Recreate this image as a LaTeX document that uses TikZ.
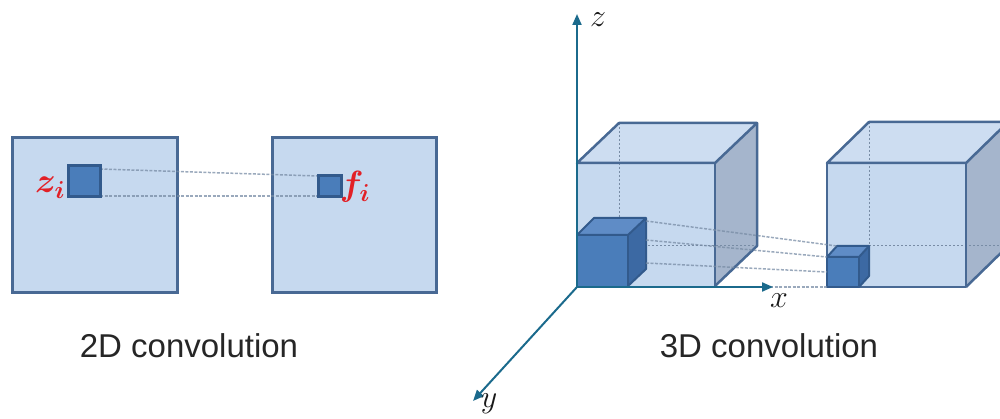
\RequirePackage{fix-cm}
\documentclass[tikz,border=0pt]{standalone}
\usepackage{fontspec}
\setsansfont{Liberation Sans}
\usetikzlibrary{arrows.meta}
\definecolor{faceblue}{RGB}{198,217,239}
\definecolor{topblue}{RGB}{205,221,241}
\definecolor{sideblue}{RGB}{165,181,204}
\definecolor{edgeblue}{RGB}{72,105,148}
\definecolor{smallfront}{RGB}{74,125,186}
\definecolor{smalltop}{RGB}{95,140,198}
\definecolor{smallside}{RGB}{60,105,163}
\definecolor{smalledge}{RGB}{50,90,140}
\definecolor{axisteal}{RGB}{27,106,140}
\definecolor{labelred}{RGB}{226,32,38}
\definecolor{linkgray}{RGB}{120,140,165}
\tikzset{
  bigsq/.style={fill=faceblue, draw=edgeblue, line width=3pt},
  smallsq/.style={fill=smallfront, draw=smalledge, line width=3pt},
  cubeedge/.style={draw=edgeblue, line width=2.5pt, line join=round},
  smalledgest/.style={draw=smalledge, line width=2pt, line join=round},
  hidden/.style={draw=linkgray, line width=1pt, dash pattern=on 2pt off 2pt},
  link/.style={draw=linkgray, line width=1.5pt, dash pattern=on 3pt off 1.5pt, opacity=0.75},
  axis/.style={draw=axisteal, line width=2pt, -{Triangle[length=11pt,width=9pt]}},
  caption/.style={font=\sffamily\fontsize{33}{40}\selectfont, text=black!85, inner sep=0pt, anchor=base},
  mlabel/.style={font=\fontsize{35}{40}\selectfont\boldmath, text=labelred, inner sep=0pt, anchor=base},
  axlabel/.style={font=\fontsize{32}{36}\selectfont, text=black!90, inner sep=0pt}
}
\begin{document}
\begin{tikzpicture}[x=1pt,y=-1pt]
\useasboundingbox (0,0) rectangle (1000,419);
\clip (0,0) rectangle (1000,419);
% ---------- 2D ----------
\draw[bigsq] (12,138) rectangle (177,293);
\draw[bigsq] (272,138) rectangle (436,293);
\coordinate (zt) at (100,169);
\coordinate (zb) at (100,196);
\coordinate (ft) at (318,176);
\coordinate (fb) at (318,196);
\draw[link] (zt) -- (ft);
\draw[link] (zb) -- (fb);
\draw[smallsq] (68,166) rectangle (100,197);
\draw[smallsq] (318,176) rectangle (341,197);
\node[mlabel] (zi) at (50,193) {$z_i$};
\node[mlabel] (fi) at (355,196) {$f_i$};
\node[caption] (cap2) at (189,357) {2D convolution};
% ---------- 3D left cube ----------
\fill[faceblue] (577,163) rectangle (715,286);
\fill[topblue] (577,163) -- (619,123) -- (757,123) -- (715,163) -- cycle;
\fill[sideblue] (715,163) -- (757,123) -- (757,246) -- (715,286) -- cycle;
\draw[hidden] (619,123) -- (619,246) -- (757,246);
\draw[cubeedge] (577,163) -- (619,123) -- (757,123) -- (715,163) -- cycle;
\draw[cubeedge] (715,163) -- (715,286);
\draw[cubeedge] (757,123) -- (757,246) -- (715,286);
% small cube in left cube
\fill[smallfront] (577,235) rectangle (628,286);
\fill[smalltop] (577,235) -- (594,218) -- (646,218) -- (628,235) -- cycle;
\fill[smallside] (628,235) -- (646,218) -- (646,269) -- (628,286) -- cycle;
\draw[smalledgest] (577,235) -- (594,218) -- (646,218) -- (628,235) -- cycle;
\draw[smalledgest] (628,235) -- (628,286);
\draw[smalledgest] (646,218) -- (646,269) -- (628,286);
% ---------- 3D right cube ----------
\fill[faceblue] (827,163) rectangle (966,287);
\fill[topblue] (827,163) -- (869,122) -- (1008,122) -- (966,163) -- cycle;
\fill[sideblue] (966,163) -- (1008,122) -- (1008,246) -- (966,287) -- cycle;
\draw[hidden] (869,122) -- (869,246) -- (1008,246);
\draw[cubeedge] (827,163) -- (869,122) -- (1008,122) -- (966,163) -- cycle;
\draw[cubeedge] (827,163) rectangle (966,287);
\draw[cubeedge] (1008,122) -- (1008,246) -- (966,287);
% small cube in right cube
\fill[smallfront] (827,257) rectangle (859,287);
\fill[smalltop] (827,257) -- (837,246) -- (869,246) -- (859,257) -- cycle;
\fill[smallside] (859,257) -- (869,246) -- (869,276) -- (859,287) -- cycle;
\draw[smalledgest] (827,257) -- (837,246) -- (869,246) -- (859,257) -- cycle;
\draw[smalledgest] (827,257) rectangle (859,287);
\draw[smalledgest] (869,246) -- (869,276) -- (859,287);
% connectors
\coordinate (a1) at (646,221);
\coordinate (b1) at (837,246);
\coordinate (a2) at (646,240);
\coordinate (b2) at (827,257);
\coordinate (a3) at (646,263);
\coordinate (b3) at (827,272);
\coordinate (a4) at (770,287);
\coordinate (b4) at (827,287);
\draw[link] (a1) -- (b1);
\draw[link] (a2) -- (b2);
\draw[link] (a3) -- (b3);
\draw[link] (a4) -- (b4);
% axes
\coordinate (O) at (577,287);
\coordinate (Z) at (577,14);
\coordinate (X) at (773,287);
\coordinate (Y) at (473,401);
\draw[axis] (O) -- (Z);
\draw[axis] (O) -- (X);
\draw[axis] (O) -- (Y);
\node[axlabel] (zl) at (598,20) {$z$};
\node[axlabel] (xl) at (779,301) {$x$};
\node[axlabel] (yl) at (489,404) {$y$};
\node[caption] (cap3) at (769,357) {3D convolution};
\end{tikzpicture}
\end{document}
